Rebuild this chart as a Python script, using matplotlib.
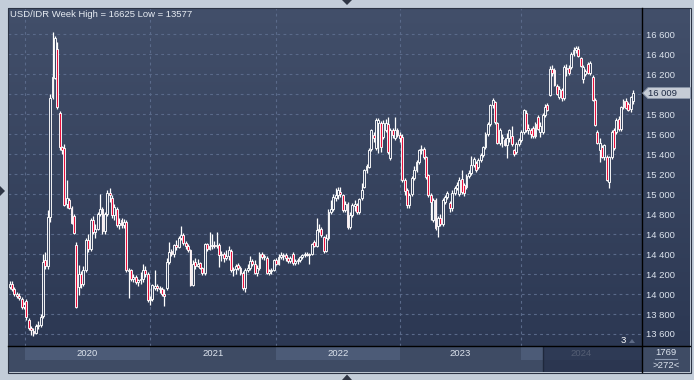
import numpy as np
import matplotlib.pyplot as plt
from matplotlib.colors import LinearSegmentedColormap
from matplotlib.patches import Rectangle, Polygon
from matplotlib.lines import Line2D
from matplotlib import transforms

plt.rcParams['font.family'] = ['Liberation Sans', 'DejaVu Sans']

# weekly USD/IDR candles (first bar = mid Nov 2019)
opens = [14070, 14105, 14050, 14000, 13985, 13950, 13870, 13930, 13740, 13660,
         13630, 13610, 13680, 13690, 13780, 14340, 14280, 14770, 15970, 16160,
         16450, 15810, 15470, 15460, 14900, 14940, 14860, 14780, 14490, 14070,
         14200, 14100, 14240, 14540, 14450, 14740, 14620, 14650, 14800, 14850,
         14630, 14800, 15010, 14960, 14790, 14850, 14690, 14740, 14690, 14720,
         14230, 14240, 14150, 14170, 14120, 14140, 14150, 14240, 14200, 13940,
         13950, 14060, 14080, 14060, 14050, 14000, 14060, 14320, 14430, 14400,
         14490, 14470, 14560, 14590, 14510, 14480, 14440, 14090, 14320, 14280,
         14310, 14260, 14210, 14500, 14450, 14480, 14490, 14480, 14490, 14390,
         14400, 14360, 14380, 14430, 14240, 14250, 14290, 14260, 14210, 14060,
         14240, 14260, 14330, 14300, 14210, 14260, 14400, 14370, 14360, 14210,
         14230, 14240, 14340, 14300, 14370, 14390, 14390, 14360, 14330, 14400,
         14310, 14330, 14340, 14370, 14390, 14400, 14390, 14400, 14520, 14480,
         14640, 14650, 14570, 14430, 14560, 14820, 14850, 14960, 14990, 15020,
         14990, 14840, 14900, 14670, 14790, 14880, 14890, 14820, 14960, 15070,
         15240, 15270, 15450, 15590, 15460, 15710, 15710, 15570, 15640, 15700,
         15360, 15640, 15560, 15640, 15590, 15570, 15140, 15040, 14890, 15000,
         15160, 15240, 15320, 15440, 15450, 15370, 15190, 14990, 14740, 14940,
         14680, 14760, 14700, 14920, 14970, 14910, 14860, 15010, 15060, 15000,
         15150, 15090, 15070, 15180, 15210, 15290, 15310, 15270, 15340, 15390,
         15470, 15600, 15700, 15890, 15920, 15710, 15510, 15560, 15540, 15490,
         15560, 15580, 15440, 15420, 15500, 15540, 15620, 15810, 15640, 15640,
         15660, 15580, 15770, 15620, 15620, 15790, 15890, 15990, 16250, 16240,
         16080, 15970, 16040, 15960, 16260, 16260, 16270, 16400, 16440, 16450,
         16360, 16150, 16200, 16300, 16210, 16170, 15940, 15620, 15440, 15470,
         15370, 15370, 15120, 15370, 15640, 15620, 15750, 15650, 15870, 15930,
         15900, 15850, 15930]
highs = [14130, 14130, 14070, 14020, 14010, 13970, 13920, 13950, 13760, 13680,
         13660, 13700, 13730, 13800, 14400, 14420, 14840, 16000, 16625, 16580,
         16520, 15830, 15480, 15500, 15140, 14960, 14880, 14800, 14520, 14290,
         14230, 14280, 14560, 14600, 14760, 14780, 14700, 14820, 15000, 14870,
         14820, 15040, 15060, 14990, 14900, 14870, 14760, 14760, 14750, 14740,
         14260, 14250, 14200, 14190, 14150, 14220, 14300, 14280, 14220, 13980,
         14100, 14240, 14100, 14080, 14070, 14050, 14360, 14520, 14450, 14500,
         14540, 14580, 14680, 14610, 14530, 14500, 14450, 14340, 14360, 14350,
         14320, 14270, 14510, 14510, 14620, 14600, 14530, 14620, 14510, 14430,
         14420, 14440, 14480, 14450, 14270, 14300, 14310, 14280, 14230, 14260,
         14300, 14380, 14350, 14340, 14290, 14420, 14420, 14400, 14380, 14250,
         14260, 14350, 14360, 14400, 14420, 14410, 14410, 14370, 14380, 14420,
         14350, 14360, 14380, 14400, 14420, 14420, 14410, 14510, 14540, 14760,
         14700, 14670, 14580, 14600, 14850, 14940, 15000, 15060, 15070, 15070,
         15000, 14930, 14920, 14820, 14910, 14940, 14910, 14960, 15110, 15250,
         15300, 15460, 15650, 15620, 15760, 15760, 15730, 15740, 15750, 15770,
         15660, 15660, 15770, 15660, 15620, 15600, 15160, 15060, 15010, 15180,
         15280, 15340, 15450, 15490, 15470, 15380, 15200, 15010, 14960, 14960,
         14780, 14800, 14960, 14990, 15030, 14930, 15040, 15080, 15120, 15170,
         15240, 15110, 15200, 15240, 15380, 15370, 15330, 15360, 15410, 15480,
         15620, 15720, 15900, 15960, 15930, 15720, 15660, 15600, 15560, 15610,
         15650, 15680, 15450, 15520, 15560, 15640, 15850, 15840, 15700, 15660,
         15680, 15720, 15790, 15720, 15810, 15900, 15910, 16280, 16290, 16260,
         16100, 16080, 16060, 16290, 16300, 16290, 16420, 16470, 16480, 16480,
         16370, 16290, 16250, 16320, 16330, 16190, 15960, 15640, 15560, 15490,
         15500, 15390, 15380, 15640, 15660, 15760, 15780, 15880, 15950, 15960,
         15920, 15980, 16040]
lows = [14050, 14030, 13980, 13960, 13940, 13850, 13850, 13740, 13640, 13590,
        13577, 13600, 13650, 13670, 13760, 14250, 14250, 14720, 15950, 16150,
        15850, 15440, 15400, 14880, 14860, 14850, 14700, 14600, 13860, 13990,
        14060, 14080, 14220, 14420, 14430, 14600, 14560, 14640, 14780, 14600,
        14600, 14780, 14920, 14760, 14740, 14670, 14650, 14660, 14660, 14220,
        13960, 14130, 14120, 14100, 14080, 14100, 14120, 14170, 13920, 13890,
        13930, 14040, 14030, 14010, 13980, 13880, 14040, 14300, 14380, 14370,
        14440, 14460, 14540, 14490, 14450, 14420, 14080, 14080, 14250, 14270,
        14250, 14190, 14190, 14430, 14440, 14450, 14460, 14460, 14270, 14330,
        14320, 14340, 14340, 14220, 14180, 14200, 14240, 14190, 14040, 14020,
        14220, 14240, 14280, 14200, 14180, 14240, 14350, 14340, 14200, 14190,
        14200, 14230, 14290, 14290, 14350, 14340, 14330, 14310, 14310, 14290,
        14290, 14300, 14320, 14350, 14370, 14380, 14300, 14390, 14470, 14470,
        14620, 14570, 14410, 14420, 14540, 14800, 14830, 14930, 14950, 14970,
        14820, 14820, 14650, 14650, 14770, 14830, 14800, 14800, 14940, 15060,
        15210, 15260, 15430, 15520, 15440, 15410, 15420, 15550, 15620, 15400,
        15340, 15560, 15540, 15570, 15520, 15120, 14990, 14860, 14860, 14980,
        15140, 15220, 15300, 15400, 15350, 15150, 14970, 14740, 14720, 14640,
        14570, 14680, 14680, 14900, 14950, 14820, 14830, 14990, 15040, 14980,
        15000, 14980, 15050, 15160, 15190, 15270, 15220, 15250, 15320, 15370,
        15450, 15580, 15680, 15860, 15700, 15500, 15490, 15470, 15480, 15360,
        15520, 15480, 15380, 15400, 15480, 15520, 15600, 15620, 15600, 15560,
        15560, 15560, 15640, 15570, 15600, 15770, 15830, 15980, 16180, 16080,
        15990, 15950, 15930, 15940, 16180, 16190, 16250, 16380, 16410, 16370,
        16270, 16110, 16180, 16200, 16190, 15930, 15680, 15500, 15320, 15360,
        15340, 15130, 15060, 15350, 15440, 15600, 15630, 15630, 15850, 15850,
        15830, 15820, 15900]
closes = [14105, 14050, 14000, 13985, 13960, 13870, 13900, 13770, 13660, 13640,
          13610, 13680, 13690, 13770, 14320, 14280, 14770, 15960, 16170, 16560,
          15870, 15470, 15440, 14890, 14960, 14860, 14710, 14610, 13870, 14200,
          14100, 14240, 14540, 14450, 14740, 14620, 14650, 14800, 14850, 14630,
          14800, 15010, 14990, 14790, 14870, 14690, 14710, 14690, 14720, 14240,
          14240, 14150, 14170, 14120, 14140, 14150, 14240, 14200, 13940, 13950,
          14090, 14080, 14060, 14050, 14000, 13980, 14320, 14420, 14400, 14490,
          14470, 14560, 14590, 14510, 14480, 14440, 14090, 14300, 14280, 14300,
          14260, 14210, 14500, 14450, 14480, 14490, 14480, 14490, 14390, 14400,
          14360, 14380, 14440, 14240, 14250, 14280, 14260, 14210, 14060, 14240,
          14260, 14330, 14300, 14210, 14260, 14400, 14370, 14380, 14210, 14230,
          14240, 14340, 14300, 14370, 14390, 14380, 14360, 14330, 14360, 14310,
          14330, 14340, 14370, 14390, 14400, 14390, 14400, 14500, 14480, 14640,
          14650, 14590, 14430, 14560, 14820, 14850, 14970, 14990, 15040, 15000,
          14840, 14900, 14670, 14790, 14890, 14900, 14820, 14950, 15040, 15240,
          15280, 15440, 15640, 15560, 15740, 15740, 15470, 15710, 15710, 15420,
          15640, 15590, 15640, 15590, 15560, 15140, 15030, 14890, 14990, 15160,
          15240, 15320, 15440, 15450, 15370, 15170, 14990, 14920, 14940, 14660,
          14760, 14700, 14940, 14970, 15010, 14860, 15010, 15060, 15090, 15140,
          15020, 15010, 15180, 15210, 15290, 15350, 15240, 15340, 15390, 15470,
          15600, 15700, 15890, 15940, 15720, 15510, 15640, 15570, 15490, 15560,
          15640, 15500, 15400, 15500, 15540, 15620, 15840, 15640, 15660, 15600,
          15580, 15700, 15650, 15680, 15790, 15870, 15840, 16250, 16210, 16090,
          16000, 16050, 15960, 16270, 16250, 16210, 16400, 16440, 16460, 16380,
          16280, 16270, 16230, 16210, 16310, 15940, 15690, 15510, 15510, 15370,
          15490, 15140, 15370, 15620, 15460, 15740, 15650, 15870, 15930, 15860,
          15840, 15970, 16009]

years = ['2020', '2021', '2022', '2023', '2024']
year_start = [6.4, 59.0, 112.1, 164.1, 214.9]  # bar index where each year begins
y_ticks = list(range(13600, 16601, 200))
title = 'USD/IDR Week High = 16625 Low = 13577'
last_price = '16 009'
bar_count = '1769'
zoom_text = '>272<'

W, H = 694, 380
fig = plt.figure(figsize=(W / 100, H / 100), dpi=100)
fig.patch.set_facecolor('#c3cdd9')


def fbox(x0, y0, x1, y1):
    return [x0 / W, 1 - y1 / H, (x1 - x0) / W, (y1 - y0) / H]


def fpt(x, y):
    return (x / W, 1 - y / H)


def bare(a):
    # keep the face colour, drop ticks and spines
    a.set_xticks([])
    a.set_yticks([])
    for s in a.spines.values():
        s.set_visible(False)


TXT = '#dde4ee'
FS = 6.8

# gradient background behind the price pane and the scale pane
bg = fig.add_axes(fbox(8, 8, 690, 345.7))
cmap = LinearSegmentedColormap.from_list('bg', ['#424f6a', '#2c3853'])
bg.imshow(np.linspace(0, 1, 256).reshape(-1, 1), cmap=cmap, aspect='auto',
          extent=[0, 1, 0, 1])
bg.set_axis_off()

ax = fig.add_axes(fbox(8, 8, 641.7, 345.7))
ax.set_facecolor('none')
x0, x1 = -0.71, 265.66
ax.set_xlim(x0, x1)
ax.set_ylim(13483, 16860)
for s in ax.spines.values():
    s.set_visible(False)
ax.set_xticks([])
ax.yaxis.tick_right()
ax.set_yticks(y_ticks)
# the 16 000 label sits under the last price tag
ax.set_yticklabels(['' if v == 16000 else f'{v:,}'.replace(',', ' ')
                    for v in y_ticks])
ax.tick_params(axis='y', length=0, pad=3, labelsize=FS, labelcolor=TXT)

for v in y_ticks:
    ax.axhline(v, color='#5a6a8a', lw=0.8, dashes=(2.5, 3), zorder=1)
for xs in year_start:
    ax.axvline(xs, color='#5a6a8a', lw=0.8, dashes=(2.5, 3), zorder=1)

o = np.array(opens, float)
h = np.array(highs, float)
l = np.array(lows, float)
c = np.array(closes, float)
xi = np.arange(len(c))
up = c >= o
ax.vlines(xi, l, h, color='white', lw=0.9, zorder=3)
body_lo = np.minimum(o, c)
body_h = np.maximum(np.abs(c - o), 12)
ax.bar(xi[up], body_h[up], bottom=body_lo[up], width=0.8,
       color='#3a4662', edgecolor='white', linewidth=0.65, zorder=4)
ax.bar(xi[~up], body_h[~up], bottom=body_lo[~up], width=0.8,
       color='#e8103c', edgecolor='white', linewidth=0.65, zorder=4)

# last price tag on the scale
tr = transforms.blended_transform_factory(fig.transFigure, ax.transData)
lp = closes[-1]
tag = Polygon([(642.5 / W, lp), (648 / W, lp + 55), (690.5 / W, lp + 55),
               (690.5 / W, lp - 55), (648 / W, lp - 55)], closed=True,
              transform=tr, facecolor='#c6ccd6', edgecolor='#8a95a8', lw=0.6,
              zorder=10, clip_on=False)
fig.add_artist(tag)
fig.text(648.5 / W, lp, last_price, transform=tr, fontsize=FS,
         color='#1f2b45', va='center', ha='left', zorder=11)

fig.text(10 / W, 1 - 14.5 / H, title, fontsize=FS, color='#e6ebf2',
         va='center', ha='left')

# little "3" marker at the bottom right of the pane
fig.text(621 / W, 1 - 340.5 / H, '3', fontsize=FS, color='white',
         va='center', ha='left')
fig.add_artist(Polygon([fpt(629, 343), fpt(635, 343), fpt(632, 339)],
                       closed=True, facecolor='#5e6b86', edgecolor='none'))

# time axis strip
tx = fig.add_axes(fbox(8, 345.7, 641.7, 372))
tx.set_facecolor('#3e4b64')
tx.set_xlim(x0, x1)
tx.set_ylim(26.3, 0)
bare(tx)
bounds = year_start + [x1]
for k, yr in enumerate(years):
    a, b = bounds[k], bounds[k + 1]
    if k % 2 == 0:
        tx.add_patch(Rectangle((a, 1.2), b - a, 13.3, facecolor='#4c5b77',
                               edgecolor='none', zorder=1))
    tx.text((a + b) / 2, 8, yr, fontsize=FS, color=TXT, ha='center',
            va='center', zorder=2)
sel = 224.2
tx.add_patch(Rectangle((sel, 0), x1 - sel, 26.3, facecolor='#25304a',
                       edgecolor='none', alpha=0.75, zorder=3))
tx.plot([sel, sel], [0, 26.3], color='#1f283c', lw=1, zorder=4)

# bottom right counter box
cb = fig.add_axes(fbox(641.7, 345.7, 690, 372))
cb.set_facecolor('#3e4b64')
cb.set_xlim(0, 1)
cb.set_ylim(26.3, 0)
bare(cb)
cb.text(0.5, 6.8, bar_count, fontsize=FS, color=TXT, ha='center', va='center')
cb.plot([0.27, 0.73], [13.2, 13.2], color='#8c99b0', lw=0.8)
cb.text(0.5, 19.8, zoom_text, fontsize=FS, color=TXT, ha='center', va='center')

# separators and frame
fig.add_artist(Line2D([641.7 / W] * 2, [1 - 8 / H, 1 - 372 / H],
                      color='black', lw=1))
fig.add_artist(Line2D([8 / W, 690 / W], [1 - 345.7 / H] * 2,
                      color='black', lw=1))
fig.add_artist(Rectangle(fpt(7.5, 372.5), 683 / W, 365 / H, fill=False,
                         edgecolor='#2b3344', lw=0.8))

# small scroll arrows on the outer frame
for pts in ([(342, 0), (352, 0), (347, 5)],
            [(342, 380), (352, 380), (347, 374.5)],
            [(0, 186), (0, 196), (5, 191)]):
    fig.add_artist(Polygon([fpt(*p) for p in pts], closed=True,
                           facecolor='#2f3645', edgecolor='none'))

fig.savefig('out.png', dpi=100, facecolor=fig.get_facecolor())
